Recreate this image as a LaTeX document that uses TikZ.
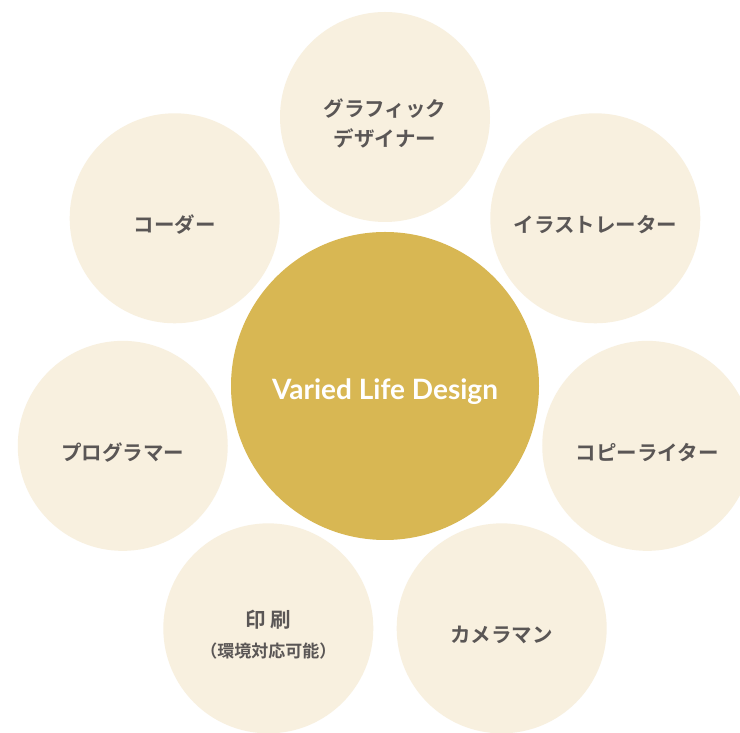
\documentclass[tikz,border=0pt]{standalone}
\usepackage{fontspec}
\usetikzlibrary{calc}
\newfontfamily\jpfont{Noto Sans CJK JP}[BoldFont={* Bold}]
\newfontfamily\latinfont{Lato}
\definecolor{beige}{HTML}{F8F0DF}
\definecolor{gold}{HTML}{D8B753}
\definecolor{txt}{HTML}{5A5655}
\begin{document}
\begin{tikzpicture}[x=1pt,y=1pt,
  outer/.style={circle,fill=beige,minimum size=210pt,inner sep=0pt},
  lbl/.style={text=txt,font=\jpfont\bfseries\fontsize{20.5}{30}\selectfont,
    align=center,yshift=-6.5pt,inner sep=0pt},
  hub/.style={circle,fill=gold,minimum size=308pt,inner sep=0pt},
  hublbl/.style={text=white,font=\latinfont\bfseries\fontsize{28}{30}\selectfont,
    yshift=-6pt,inner sep=0pt}]
\useasboundingbox (0,0) rectangle (740,733);
\clip (0,0) rectangle (740,733);
\fill[white] (0,0) rectangle (740,733);
\coordinate (c) at (385,347);
\node[hub,label={[hublbl]center:Varied Life Design}] (hub) at (c) {};
\node[outer,label={[lbl]center:グラフィック\\デザイナー}] (n1) at ($(c)+(90:269)$) {};
\node[outer,label={[lbl]center:イラストレーター}] (n2) at ($(c)+(38.57:269)$) {};
\node[outer,label={[lbl]center:コピーライター}] (n3) at ($(c)+(-12.86:269)$) {};
\node[outer,label={[lbl]center:カメラマン}] (n4) at ($(c)+(-64.29:269)$) {};
\node[outer,label={[lbl]center:印 刷\\{\fontsize{17}{20}\selectfont（環境対応可能）}}] (n5) at ($(c)+(-115.71:269)$) {};
\node[outer,label={[lbl]center:プログラマー}] (n6) at ($(c)+(-167.14:269)$) {};
\node[outer,label={[lbl]center:コーダー}] (n7) at ($(c)+(141.43:269)$) {};
\end{tikzpicture}
\end{document}
